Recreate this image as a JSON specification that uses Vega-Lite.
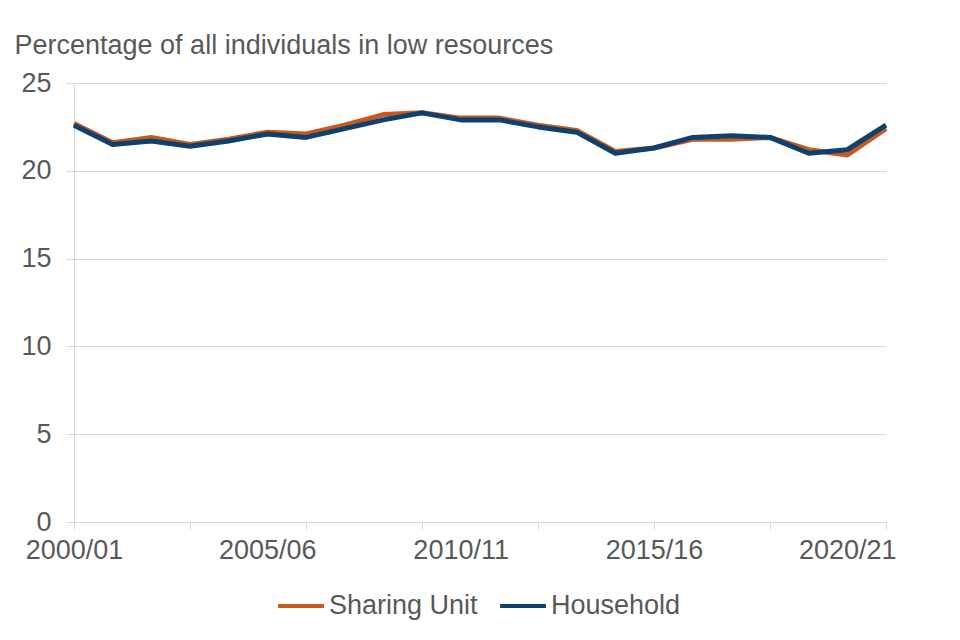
{
  "$schema": "https://vega.github.io/schema/vega-lite/v6.json",
  "autosize": "none",
  "width": 812,
  "height": 439,
  "padding": {"left": 74, "top": 83, "right": 74, "bottom": 118},
  "background": "white",
  "config": {
    "view": {"stroke": null},
    "font": "Liberation Sans",
    "axis": {"labelFont": "Liberation Sans", "labelColor": "#595959", "labelFontSize": 27, "domainColor": "#d9d9d9", "tickColor": "#d9d9d9", "gridColor": "#d9d9d9", "titleFont": "Liberation Sans"},
    "legend": {"labelFont": "Liberation Sans", "labelColor": "#595959", "labelFontSize": 27}
  },
  "data": {
    "values": [
      {"year": "2000/01", "Sharing Unit": 22.7, "Household": 22.6},
      {"year": "2001/02", "Sharing Unit": 21.6, "Household": 21.5},
      {"year": "2002/03", "Sharing Unit": 21.9, "Household": 21.7},
      {"year": "2003/04", "Sharing Unit": 21.5, "Household": 21.4},
      {"year": "2004/05", "Sharing Unit": 21.8, "Household": 21.7},
      {"year": "2005/06", "Sharing Unit": 22.2, "Household": 22.1},
      {"year": "2006/07", "Sharing Unit": 22.1, "Household": 21.9},
      {"year": "2007/08", "Sharing Unit": 22.6, "Household": 22.4},
      {"year": "2008/09", "Sharing Unit": 23.2, "Household": 22.9},
      {"year": "2009/10", "Sharing Unit": 23.3, "Household": 23.3},
      {"year": "2010/11", "Sharing Unit": 23.0, "Household": 22.9},
      {"year": "2011/12", "Sharing Unit": 23.0, "Household": 22.9},
      {"year": "2012/13", "Sharing Unit": 22.6, "Household": 22.5},
      {"year": "2013/14", "Sharing Unit": 22.3, "Household": 22.2},
      {"year": "2014/15", "Sharing Unit": 21.1, "Household": 21.0},
      {"year": "2015/16", "Sharing Unit": 21.3, "Household": 21.3},
      {"year": "2016/17", "Sharing Unit": 21.8, "Household": 21.9},
      {"year": "2017/18", "Sharing Unit": 21.8, "Household": 22.0},
      {"year": "2018/19", "Sharing Unit": 21.9, "Household": 21.9},
      {"year": "2019/20", "Sharing Unit": 21.2, "Household": 21.0},
      {"year": "2020/21", "Sharing Unit": 20.9, "Household": 21.2},
      {"year": "2021/22", "Sharing Unit": 22.4, "Household": 22.6}
    ]
  },
  "transform": [{"fold": ["Sharing Unit", "Household"], "as": ["series", "value"]}],
  "mark": {"type": "line", "strokeWidth": 5, "strokeJoin": "round", "strokeCap": "butt"},
  "encoding": {
    "x": {
      "field": "year", "type": "ordinal", "sort": null,
      "scale": {"type": "point", "padding": 0},
      "axis": {
        "title": null, "labelAngle": 0, "labelOverlap": false, "labelPadding": 8,
        "tickSize": 7, "grid": false,
        "values": ["2000/01", "2003/04", "2005/06", "2006/07", "2009/10", "2010/11", "2012/13", "2015/16", "2018/19", "2020/21", "2021/22"],
        "labelExpr": "indexof(['2000/01','2005/06','2010/11','2015/16','2020/21'], datum.value) >= 0 ? datum.value : ''",
        "tickOpacity": {"condition": {"test": "indexof(['2000/01','2003/04','2006/07','2009/10','2012/13','2015/16','2018/19','2021/22'], datum.value) >= 0", "value": 1}, "value": 0}
      }
    },
    "y": {
      "field": "value", "type": "quantitative",
      "scale": {"domain": [0, 25]},
      "axis": {
        "values": [0, 5, 10, 15, 20, 25], "tickSize": 8, "labelPadding": 15,
        "title": "Percentage of all individuals in low resources",
        "titleAngle": 0, "titleAlign": "left", "titleBaseline": "alphabetic",
        "titleX": -60, "titleY": -30, "titleFontSize": 27, "titleFontWeight": "normal", "titleColor": "#595959"
      }
    },
    "color": {
      "field": "series", "type": "nominal",
      "scale": {"domain": ["Sharing Unit", "Household"], "range": ["#c65a1e", "#0f416e"]},
      "legend": {
        "title": null, "orient": "none", "direction": "horizontal",
        "legendX": 202, "legendY": 498,
        "symbolType": "stroke", "symbolSize": 2100, "symbolStrokeWidth": 4,
        "labelOffset": 3, "columnPadding": 14
      }
    }
  }
}
